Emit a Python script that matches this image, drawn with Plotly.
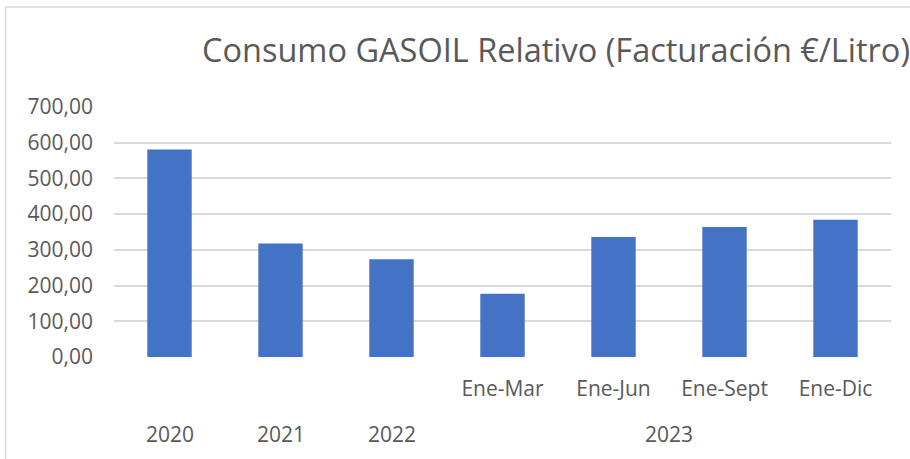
import plotly.graph_objects as go

# Data
categories = ["2020", "2021", "2022", "Ene-Mar", "Ene-Jun", "Ene-Sept", "Ene-Dic"]
groups = ["2020", "2021", "2022", "2023", "2023", "2023", "2023"]
values = [581, 318, 274, 177, 336, 364, 384]
inner_tick_labels = ["Ene-Mar", "Ene-Jun", "Ene-Sept", "Ene-Dic"]
y_ticks = [0, 100, 200, 300, 400, 500, 600, 700]
y_tick_text = ["0,00", "100,00", "200,00", "300,00", "400,00", "500,00", "600,00", "700,00"]

title_text = "Consumo GASOIL Relativo (Facturación €/Litro)"

# group label positions (mean index of each group's categories)
group_names = []
group_pos = []
for g in dict.fromkeys(groups):
    idx = [i for i, gg in enumerate(groups) if gg == g]
    group_names.append(g)
    group_pos.append(sum(idx) / len(idx))

W, H = 910, 459
L, R, T, B = 114, 19, 107, 102
pw, ph = W - L - R, H - T - B

def px_x(px):
    return (px - L) / pw

def px_y(py):
    return (H - B - py) / ph

font_family = "Open Sans"
grey_text = "#595959"

fig = go.Figure(
    go.Bar(
        x=list(range(len(categories))),
        y=values,
        marker=dict(color="#4472C4", line=dict(width=0)),
        hovertext=categories,
    )
)

annotations = [
    dict(
        x=pos,
        xref="x",
        y=px_y(434),
        yref="paper",
        text=name,
        showarrow=False,
        xanchor="center",
        yanchor="middle",
        font=dict(family=font_family, size=21, color=grey_text),
    )
    for name, pos in zip(group_names, group_pos)
]

fig.update_layout(
    width=W,
    height=H,
    margin=dict(l=L, r=R, t=T, b=B),
    paper_bgcolor="white",
    plot_bgcolor="white",
    bargap=0.6,
    showlegend=False,
    font=dict(family=font_family, color=grey_text, size=21),
    title=dict(
        text=title_text,
        font=dict(family=font_family, size=32.5, color=grey_text),
        x=1.0,
        xanchor="right",
        xref="container",
        y=1 - 51 / H,
        yanchor="middle",
        yref="container",
        pad=dict(r=0, l=0, t=0, b=0),
    ),
    annotations=annotations,
    shapes=[
        dict(
            type="rect",
            xref="paper",
            yref="paper",
            x0=px_x(5.5),
            x1=px_x(915),
            y0=px_y(470),
            y1=px_y(7),
            line=dict(color="#d9d9d9", width=1.5),
            fillcolor="rgba(0,0,0,0)",
            layer="below",
        )
    ],
    xaxis=dict(
        type="linear",
        range=[-0.5, len(categories) - 0.5],
        tickvals=[categories.index(c) for c in inner_tick_labels],
        ticktext=inner_tick_labels,
        showgrid=False,
        showline=False,
        zeroline=False,
        ticks="",
        ticklabelstandoff=17,
        tickfont=dict(family=font_family, size=21, color=grey_text),
    ),
    yaxis=dict(
        range=[0, 700],
        tickvals=y_ticks,
        ticktext=y_tick_text,
        showgrid=True,
        gridcolor="#d9d9d9",
        gridwidth=1.8,
        zeroline=False,
        showline=False,
        ticks="",
        ticklabelstandoff=20,
        tickfont=dict(family=font_family, size=21, color=grey_text),
    ),
)

fig.write_html(
    "out.html",
    config={"displayModeBar": False},
    post_script="document.body.style.margin='0';document.body.style.overflow='hidden';",
)
